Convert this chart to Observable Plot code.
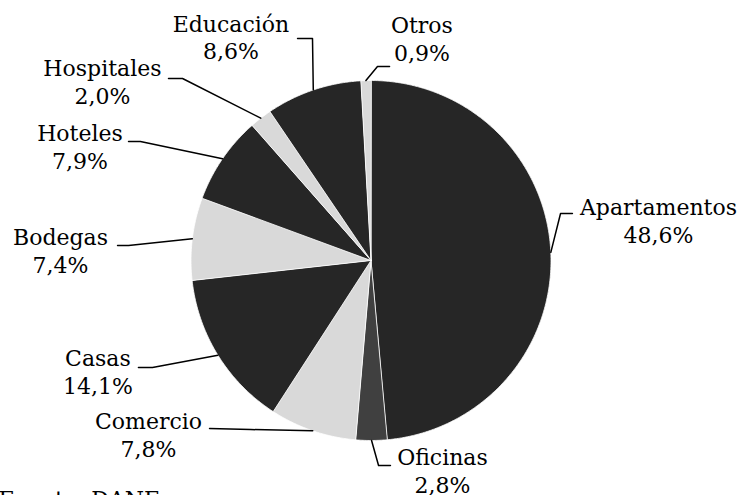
<!DOCTYPE html>
<html><head><meta charset="utf-8">
<script src="https://cdn.jsdelivr.net/npm/d3@7"></script>
<script src="https://cdn.jsdelivr.net/npm/@observablehq/plot@0.6"></script>
<style>html,body{margin:0;padding:0;background:#fff;overflow:hidden}
svg text{font-family:"DejaVu Serif","Liberation Serif",serif !important}</style>
</head><body><div id="chart"></div>
<script>
const categories = ["Apartamentos","Oficinas","Comercio","Casas","Bodegas","Hoteles","Hospitales","Educación","Otros"];
const values = [48.6, 2.8, 7.8, 14.1, 7.4, 7.9, 2.0, 8.6, 0.9];
const valueLabels = ["48,6%","2,8%","7,8%","14,1%","7,4%","7,9%","2,0%","8,6%","0,9%"];
const sliceColors = ["#262626","#404040","#d9d9d9","#262626","#d9d9d9","#262626","#d9d9d9","#262626","#d9d9d9"];
const sourceNote = "Fuente: DANE";

// Label layout, in units of the pie radius (centre = 0,0; y up)
// tx,ty: label centre / last baseline; lx,ly: leader start at label; ex,ey: leader elbow
const labelLayout = {
  "Apartamentos": {tx: 1.597, ty: 0.100, lx: 1.119, ly: 0.261, ex: 1.053, ey: 0.261},
  "Oficinas":     {tx: 0.397, ty: -1.289, lx: 0.108, ly: -1.139, ex: 0.042, ey: -1.139},
  "Comercio":     {tx: -1.236, ty: -1.094, lx: -0.897, ly: -0.933, ex: -0.669, ey: -0.939},
  "Casas":        {tx: -1.517, ty: -0.744, lx: -1.292, ly: -0.594, ex: -1.214, ey: -0.594},
  "Bodegas":      {tx: -1.725, ty: -0.067, lx: -1.408, ly: 0.083, ex: -1.347, ey: 0.083},
  "Hoteles":      {tx: -1.617, ty: 0.511, lx: -1.347, ly: 0.661, ex: -1.281, ey: 0.661},
  "Hospitales":   {tx: -1.492, ty: 0.872, lx: -1.125, ly: 1.011, ex: -1.047, ey: 1.011},
  "Educación":    {tx: -0.778, ty: 1.117, lx: -0.408, ly: 1.233, ex: -0.325, ey: 1.233},
  "Otros":        {tx: 0.283, ty: 1.111, lx: 0.103, ly: 1.078, ex: 0.036, ey: 1.078}
};
const sourceLayout = {x: -2.07, y: -1.372};

const table = categories.map((c, i) => ({name: c, value: values[i], pct: valueLabels[i], color: sliceColors[i]}));
const arcs = d3.pie().sort(null).value(d => d.value)(table);

const slicePts = [];
arcs.forEach(a => {
  const n = Math.max(2, Math.ceil((a.endAngle - a.startAngle) / (Math.PI / 360)));
  slicePts.push({name: a.data.name, color: a.data.color, x: 0, y: 0});
  for (let k = 0; k <= n; k++) {
    const t = a.startAngle + (a.endAngle - a.startAngle) * k / n;
    slicePts.push({name: a.data.name, color: a.data.color, x: Math.sin(t), y: Math.cos(t)});
  }
});

const leaderPts = [];
arcs.forEach(a => {
  const L = labelLayout[a.data.name];
  const m = (a.startAngle + a.endAngle) / 2;
  leaderPts.push({name: a.data.name, x: L.lx, y: L.ly});
  leaderPts.push({name: a.data.name, x: L.ex, y: L.ey});
  leaderPts.push({name: a.data.name, x: Math.sin(m), y: Math.cos(m)});
});

const labels = table.map(d => ({...labelLayout[d.name], text: d.name + "\n" + d.pct}));
const serif = "DejaVu Serif, Liberation Serif, serif";

const chart = Plot.plot({
  width: 743,
  height: 495,
  marginLeft: 190.5,
  marginRight: 192.5,
  marginTop: 80,
  marginBottom: 55,
  x: {domain: [-1, 1], axis: null},
  y: {domain: [-1, 1], axis: null},
  color: {type: "identity"},
  style: {fontFamily: serif, background: "#fff", overflow: "visible"},
  marks: [
    Plot.line(slicePts, {x: "x", y: "y", z: "name", fill: "color", stroke: "#fff", strokeWidth: 0.8, curve: "linear-closed"}),
    Plot.line(leaderPts, {x: "x", y: "y", z: "name", stroke: "#000", strokeWidth: 1.5}),
    Plot.text(labels, {x: "tx", y: "ty", text: "text", lineAnchor: "bottom", lineHeight: 1.27, fontSize: 22, fontFamily: serif, textAnchor: "middle", fill: "#000"}),
    Plot.text([sourceNote], {x: () => sourceLayout.x, y: () => sourceLayout.y, text: d => d, textAnchor: "start", lineAnchor: "bottom", fontSize: 22, fontFamily: serif, fill: "#000"})
  ]
});
document.getElementById("chart").appendChild(chart);
</script>
</body></html>
